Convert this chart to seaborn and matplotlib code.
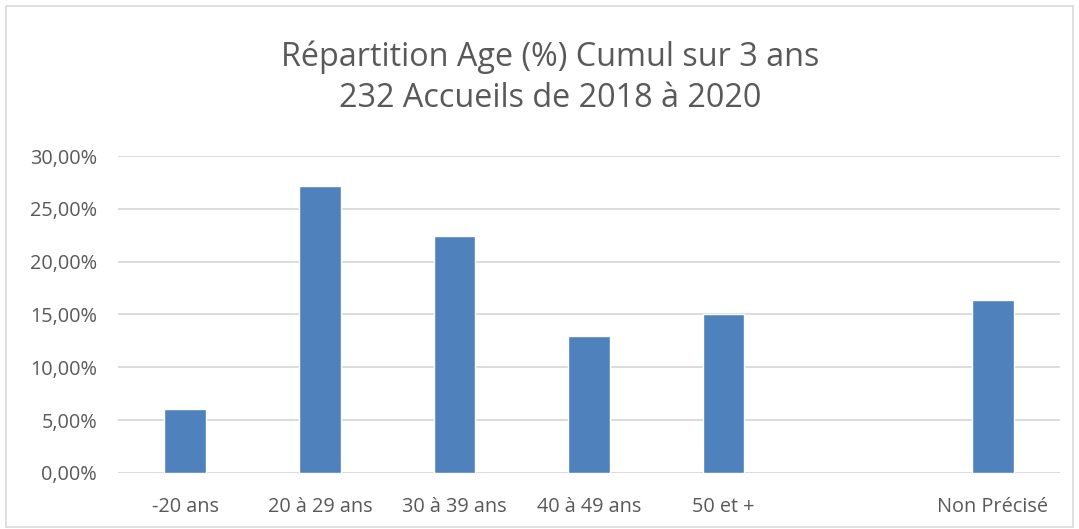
import matplotlib
matplotlib.use('Agg')
import matplotlib.pyplot as plt
from matplotlib.patches import Rectangle
from matplotlib.ticker import FuncFormatter, MultipleLocator
import seaborn as sns
import pandas as pd

# catégories (le créneau vide entre "50 et +" et "Non Précisé" est conservé)
categories = ['-20 ans', '20 à 29 ans', '30 à 39 ans', '40 à 49 ans', '50 et +', ' ', 'Non Précisé']
tranches   = ['-20 ans', '20 à 29 ans', '30 à 39 ans', '40 à 49 ans', '50 et +', 'Non Précisé']
pourcent   = [6.03, 27.16, 22.41, 12.93, 15.09, 16.38]

TITRE = 'Répartition Age (%) Cumul sur 3 ans\n232 Accueils de 2018 à 2020'
BLEU  = '#4f81bd'
GRIS  = '#595959'

sns.set_theme(style='white')
plt.rcParams['font.family'] = ['Open Sans', 'DejaVu Sans']

df = pd.DataFrame({'tranche': tranches, 'pct': pourcent})

fig = plt.figure(figsize=(10.79, 5.29), dpi=100)
ax = fig.add_axes([0.1094, 0.1059, 0.873, 0.5992])

sns.barplot(data=df, x='tranche', y='pct', order=categories, color=BLEU,
            width=0.31, saturation=1, ax=ax)

ax.set_ylim(0, 30)
ax.yaxis.set_major_locator(MultipleLocator(5))
ax.yaxis.set_major_formatter(FuncFormatter(lambda v, p: f'{v:.2f}%'.replace('.', ',')))
ax.grid(axis='y', color='#d9d9d9', linewidth=1.3)
ax.set_axisbelow(True)
for s in ax.spines.values():
    s.set_visible(False)
ax.set_xlabel('')
ax.set_ylabel('')
ax.tick_params(axis='both', length=0, labelsize=14.3, labelcolor=GRIS)
ax.tick_params(axis='x', pad=17)
ax.tick_params(axis='y', pad=15)

fig.text(0.51, 0.853, TITRE, ha='center', va='center', fontsize=23.3,
         color=GRIS, linespacing=1.35)

# cadre du graphique
fig.patches.append(Rectangle((0.006, 0.003), 0.988, 0.985, transform=fig.transFigure,
                             fill=False, edgecolor='#d9d9d9', linewidth=1.2))

fig.savefig('out.png', dpi=100)
plt.close(fig)
